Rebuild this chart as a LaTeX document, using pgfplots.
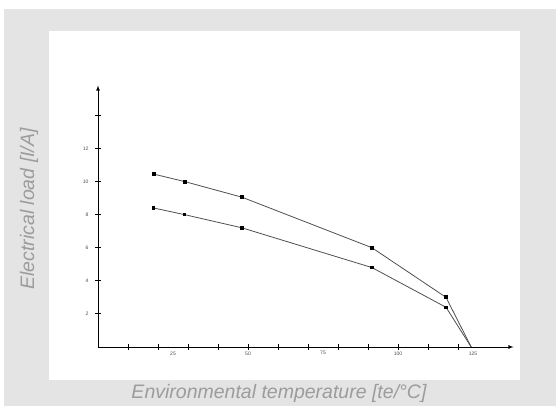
\documentclass[border=0pt]{standalone}
\usepackage{pgfplots}
\pgfplotsset{compat=1.18}
\usepackage{fontspec}
\setmainfont{Liberation Sans}
\definecolor{bggrey}{HTML}{E4E4E4}
\definecolor{lblgrey}{HTML}{9C9C9C}
\definecolor{linegrey}{HTML}{505050}
\begin{document}
\begin{tikzpicture}[x=1pt,y=1pt]
\fill[white] (0,0) rectangle (556,406);
\fill[bggrey] (4,0) rectangle (556,397);
\fill[white] (49,26) rectangle (520,375);
\begin{axis}[
  at={(98pt,59pt)}, anchor=south west,
  scale only axis, width=415.5pt, height=261.5pt,
  xmin=0, xmax=138.5, ymin=0, ymax=15.8,
  axis lines=left,
  axis line style={black, line width=0.8pt, -latex},
  tick align=center,
  major tick length=6pt,
  major tick style={black, line width=0.8pt},
  xtick={10,20,...,120},
  xticklabels={},
  extra x ticks={25,50,75,100,125},
  extra x tick labels={25,50,75,100,125},
  extra x tick style={major tick length=0pt, tick label style={yshift=-1pt}},
  ytick={2,4,...,14},
  yticklabels={2,4,6,8,10,12,},
  tick label style={font=\fontsize{5}{6}\selectfont, text=black!70},
  yticklabel style={xshift=-3pt},
  /pgf/number format/assume math mode=true,
  clip=false,
]
\addplot[linegrey, line width=0.8pt, mark=square*, mark size=1.5pt,
  mark options={black, solid}, mark indices={1,2,3,4,5}]
  coordinates {(18.5,10.45) (28.8,10.0) (48,9.05) (91.3,6.0) (116,3.0) (124.4,0)};
\addplot[linegrey, line width=0.8pt, mark=square*, mark size=1.3pt,
  mark options={black, solid}, mark indices={1,2,3,4,5}]
  coordinates {(18.5,8.4) (28.8,8.0) (48,7.2) (91.3,4.8) (116,2.4) (124.4,0)};
\end{axis}
\node[rotate=90, text=lblgrey, font=\fontsize{19.5}{22}\selectfont\itshape] at (29,197) {Electrical load [I/A]};
\node[text=lblgrey, font=\fontsize{19.5}{22}\selectfont\itshape] at (279,13) {Environmental temperature [te/°C]};
\end{tikzpicture}
\end{document}
